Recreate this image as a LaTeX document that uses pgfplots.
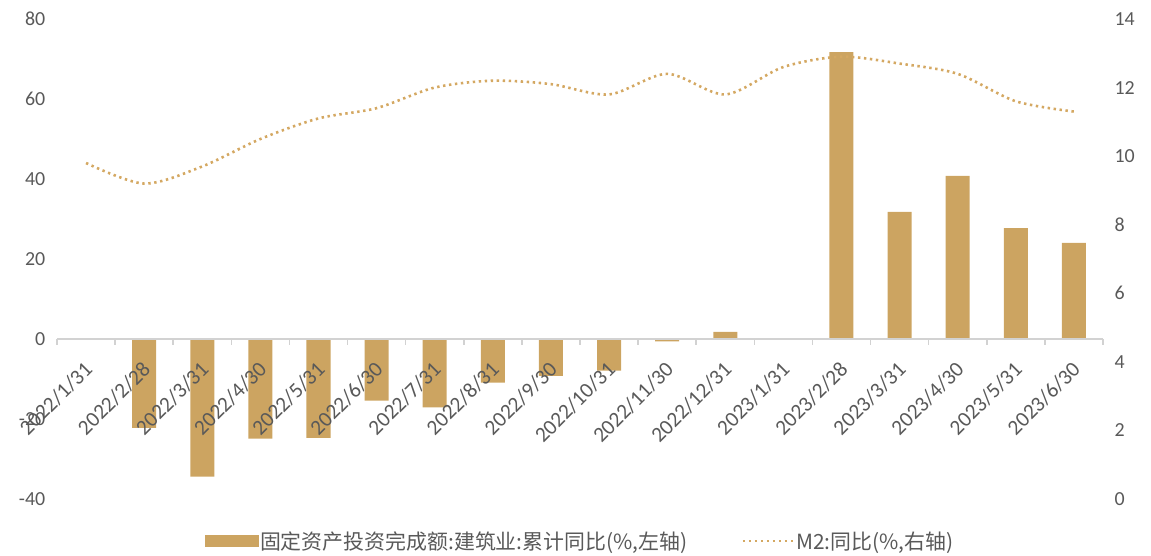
\documentclass[border=0pt]{standalone}
\usepackage{pgfplots}
\pgfplotsset{compat=1.18}
\usepackage{fontspec}
\setmainfont{Carlito}
\newfontfamily\cjk{Noto Sans CJK SC}
\definecolor{barc}{RGB}{204,164,97}
\definecolor{linec}{RGB}{212,168,98}
\definecolor{txt}{RGB}{89,89,89}
\definecolor{axc}{RGB}{210,210,210}

\begin{document}
\begin{tikzpicture}
\useasboundingbox (0,0) rectangle (1151bp,556bp);
\begin{axis}[
  at={(57bp,57bp)}, anchor=south west,
  scale only axis, width=1046bp, height=480bp,
  xmin=-0.5, xmax=17.5, ymin=-40, ymax=80,
  ytick={-40,-20,...,80},
  axis on top,
  axis x line*=middle, axis y line*=left,
  hide obscured x ticks=false, hide obscured y ticks=false,
  x axis line style={-, draw=axc, line width=1.5bp},
  y axis line style={draw=none},
  ytick style={draw=none},
  xtick={0,...,17},
  xticklabels={2022/1/31,2022/2/28,2022/3/31,2022/4/30,2022/5/31,2022/6/30,2022/7/31,2022/8/31,2022/9/30,2022/10/31,2022/11/30,2022/12/31,2023/1/31,2023/2/28,2023/3/31,2023/4/30,2023/5/31,2023/6/30},
  major x tick style={draw=none},
  minor xtick={-0.5,0.5,...,17.5},
  minor x tick style={draw=axc, line width=1.5bp},
  minor tick length=6bp,
  tick align=outside,
  xticklabel style={xshift=5bp, yshift=-20bp, rotate=45, anchor=east, font=\fontsize{21.5}{24}\selectfont, text=txt},
  yticklabel style={font=\fontsize{20}{24}\selectfont, text=txt, xshift=-4bp},
  /pgf/number format/assume math mode=true,
  clip=false,
]
\addplot[ybar, bar width=24bp, fill=barc, draw=none] coordinates {
(1,-22.2) (2,-34.4) (3,-24.9) (4,-24.7) (5,-15.4) (6,-17.1) (7,-10.9) (8,-9.2)
(9,-7.9) (10,-0.6) (11,1.8) (13,71.7) (14,31.8) (15,40.8) (16,27.7) (17,24.0)};
\end{axis}
\begin{axis}[
  at={(57bp,57bp)}, anchor=south west,
  scale only axis, width=1046bp, height=480bp,
  xmin=-0.5, xmax=17.5, ymin=0, ymax=14,
  ytick={0,2,...,14},
  axis x line=none, axis y line*=right,
  y axis line style={draw=none},
  ytick style={draw=none},
  yticklabel style={font=\fontsize{20}{24}\selectfont, text=txt, xshift=8bp},
  /pgf/number format/assume math mode=true,
  legend columns=2,
  legend style={at={(0.5,-0.0875)}, anchor=center, draw=none, fill=none,
    font=\cjk\fontsize{21}{24}\selectfont, text=txt,
    /tikz/every even column/.append style={column sep=52bp}},
  legend cell align=left,
]
\addlegendimage{legend image code/.code={\fill[barc] (0bp,-5.5bp) rectangle (53bp,5.5bp);}}
\addlegendentry{固定资产投资完成额:建筑业:累计同比(\%,左轴)}
\addplot[linec, line width=2.6bp, dash pattern=on 2.4bp off 3.6bp, smooth, tension=0.5,
  legend image code/.code={\draw[linec, line width=2.6bp, dash pattern=on 2.4bp off 3.6bp] (0bp,0bp) -- (50bp,0bp);}] coordinates {
(0,9.8) (1,9.2) (2,9.7) (3,10.5) (4,11.1) (5,11.4) (6,12.0) (7,12.2) (8,12.1)
(9,11.8) (10,12.4) (11,11.8) (12,12.6) (13,12.9) (14,12.7) (15,12.4) (16,11.6) (17,11.3)};
\addlegendentry{M2:同比(\%,右轴)}
\end{axis}
\end{tikzpicture}
\end{document}
